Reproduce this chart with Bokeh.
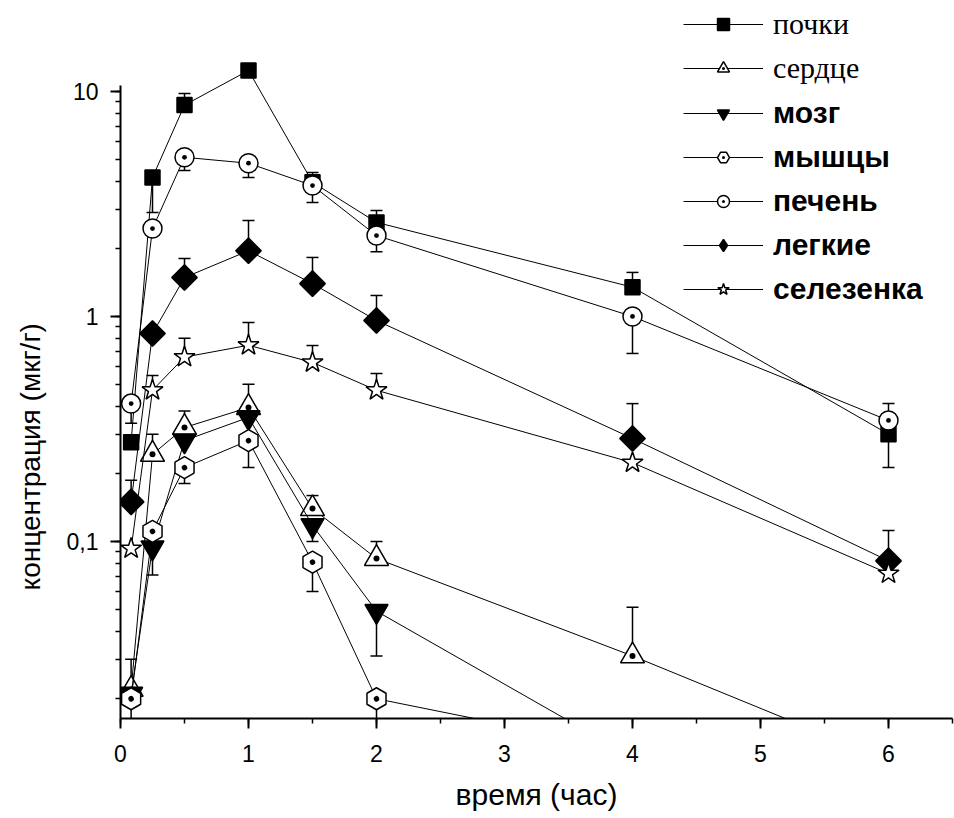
import math
from bokeh.plotting import figure
from bokeh.models import (Range1d, Whisker, TeeHead, ColumnDataSource, Legend, LegendItem,
                          SingleIntervalTicker, CustomJSTickFormatter)
from bokeh.embed import file_html
from bokeh.resources import INLINE

# ---- data (time in hours, concentration in ug/g) ----
t_full = [0.083, 0.25, 0.5, 1, 1.5, 2, 4, 6]
t_short = [0.083, 0.25, 0.5, 1, 1.5, 2, 4]

kidney = [0.276, 4.15, 8.7, 12.4, 3.95, 2.62, 1.35, 0.30]
kidney_lo = [None, 2.9, None, None, None, None, None, 0.213]
kidney_hi = [None, None, 9.8, None, 4.37, 2.96, 1.57, None]

heart = [0.022, 0.244, 0.321, 0.394, 0.14, 0.084, 0.031, 0.0106]
heart_lo = [None, None, None, None, None, None, None, None]
heart_hi = [None, 0.30, 0.38, 0.50, 0.16, 0.10, 0.051, None]

brain = [0.021, 0.094, 0.281, 0.356, 0.118, 0.049, 0.011]
brain_lo = [None, 0.071, None, None, 0.10, 0.031, None]
brain_hi = [None, None, None, None, None, None, None]

muscle = [0.02, 0.111, 0.213, 0.281, 0.081, 0.02, 0.0118]
muscle_lo = [0.015, None, 0.181, 0.213, 0.06, 0.015, None]
muscle_hi = [0.030, None, None, None, None, None, None]

liver = [0.41, 2.46, 5.1, 4.8, 3.82, 2.29, 1.0, 0.345]
liver_lo = [0.335, None, 4.45, 4.15, 3.21, 1.94, 0.685, None]
liver_hi = [None, None, None, None, None, None, None, 0.41]

lung = [0.15, 0.84, 1.49, 1.96, 1.40, 0.96, 0.287, 0.082]
lung_lo = [None, None, None, None, None, None, None, None]
lung_hi = [0.187, None, 1.81, 2.67, 1.83, 1.24, 0.41, 0.112]

spleen = [0.093, 0.47, 0.66, 0.745, 0.625, 0.47, 0.224, 0.072]
spleen_lo = [None, None, None, None, None, None, None, None]
spleen_hi = [None, 0.547, 0.80, 0.94, 0.743, 0.558, None, None]

names = ["почки", "сердце", "мозг", "мышцы", "печень", "легкие", "селезенка"]
x_label = "время (час)"
y_label = "концентрация (мкг/г)"

series = [
    (t_full, kidney, kidney_lo, kidney_hi, dict(marker="square", size=15, fill_color="black", angle=0, leg="square", lsize=15)),
    (t_full, heart, heart_lo, heart_hi, dict(marker="triangle_dot", size=24, fill_color="white", angle=0, leg="triangle_dot", lsize=24)),
    (t_short, brain, brain_lo, brain_hi, dict(marker="inverted_triangle", size=23, fill_color="black", angle=0, leg="inverted_triangle", lsize=23)),
    (t_short, muscle, muscle_lo, muscle_hi, dict(marker="hex_dot", size=22, fill_color="white", angle=math.pi / 6, leg="hex_dot", lsize=22)),
    (t_full, liver, liver_lo, liver_hi, dict(marker="circle_dot", size=19, fill_color="white", angle=0, leg="circle_dot", lsize=19)),
    (t_full, lung, lung_lo, lung_hi, dict(marker="square", size=18, fill_color="black", angle=math.pi / 4, leg="diamond", lsize=24)),
    (t_full, spleen, spleen_lo, spleen_hi, dict(marker="star", size=22, fill_color="white", angle=0, leg="star", lsize=22)),
]

YMIN, YMAX = 0.01634, 25.38

p = figure(width=954, height=818, x_range=Range1d(0, 6.5), y_range=Range1d(YMIN, YMAX),
           y_axis_type="log", output_backend="svg", toolbar_location=None,
           min_border_left=120, min_border_right=2, min_border_top=0, min_border_bottom=100)
p.outline_line_color = None
p.grid.visible = False
p.background_fill_color = "white"
p.border_fill_color = "white"

items = []
for (xs, ys, lo, hi, st) in series:
    lr = p.line(xs, ys, line_color="black", line_width=1)
    sr = p.scatter(xs, ys, marker=st["marker"], size=st["size"], angle=st["angle"],
                   fill_color=st["fill_color"], line_color="black", line_width=1.5)
    ux = [x for x, h in zip(xs, hi) if h is not None]
    uy = [y for y, h in zip(ys, hi) if h is not None]
    uh = [h for h in hi if h is not None]
    if ux:
        src = ColumnDataSource(dict(x=ux, lower=uy, upper=uh))
        p.add_layout(Whisker(source=src, base="x", lower="lower", upper="upper", dimension="height",
                             line_color="black", line_width=1.5,
                             upper_head=TeeHead(size=12, line_width=1.5, line_color="black"),
                             lower_head=None))
    dx = [x for x, l in zip(xs, lo) if l is not None]
    dy = [y for y, l in zip(ys, lo) if l is not None]
    dl = [l for l in lo if l is not None]
    if dx:
        src = ColumnDataSource(dict(x=dx, lower=dl, upper=dy))
        p.add_layout(Whisker(source=src, base="x", lower="lower", upper="upper", dimension="height",
                             line_color="black", line_width=1.5,
                             lower_head=TeeHead(size=12, line_width=1.5, line_color="black"),
                             upper_head=None))
    if st["leg"] != st["marker"]:
        # hidden proxy glyph whose only job is the legend symbol
        lg = p.scatter(xs, ys, marker=st["leg"], size=st["lsize"], visible=False,
                       fill_color=st["fill_color"], line_color="black", line_width=1.5)
        items.append((lr, lg))
    else:
        items.append((lr, sr))

# axes
p.xaxis.ticker = SingleIntervalTicker(interval=1, num_minor_ticks=2)
p.yaxis.bounds = (YMIN, 10.6)
p.yaxis.formatter = CustomJSTickFormatter(
    code="const v = Math.round(tick*1000)/1000; return String(v).replace('.', ',');")
p.xaxis.axis_label = x_label
# trailing no-break spaces push the visible title lower along the axis, as in the original
p.yaxis.axis_label = y_label + "\u00a0" * 25
for ax in (p.xaxis[0], p.yaxis[0]):
    ax.axis_line_width = 2
    ax.axis_line_color = "black"
    ax.major_tick_line_width = 2
    ax.major_tick_line_color = "black"
    ax.minor_tick_line_width = 1.5
    ax.minor_tick_line_color = "black"
    ax.major_tick_out = 10
    ax.major_tick_in = 0
    ax.minor_tick_out = 5
    ax.minor_tick_in = 0
    ax.major_label_text_color = "black"
    ax.axis_label_text_color = "black"
    ax.axis_label_text_font = "Liberation Sans"
    ax.axis_label_text_font_style = "normal"

p.xaxis.major_label_text_font = "Liberation Sans"
p.xaxis.major_label_text_font_size = "23px"
p.xaxis.major_label_standoff = 16
p.xaxis.axis_label_text_font_size = "30px"
p.xaxis.axis_label_standoff = 13

p.yaxis.major_label_text_font = "Liberation Sans"
p.yaxis.major_label_text_font_size = "23px"
p.yaxis.major_label_standoff = 12
p.yaxis.axis_label_text_font_size = "28px"
p.yaxis.axis_label_standoff = 18

# legends (two fonts, as in the original)
def make_legend(idx, font, style, loc):
    leg = Legend(items=[LegendItem(label=names[i], renderers=list(items[i])) for i in idx],
                 location=loc, label_text_font=font, label_text_font_style=style,
                 label_text_font_size="30px", label_text_color="black",
                 glyph_width=80, glyph_height=30, label_height=30, spacing=10,
                 label_standoff=10, padding=0, margin=0, click_policy="none",
                 inactive_fill_alpha=0,
                 border_line_color=None, background_fill_alpha=0)
    p.add_layout(leg)

make_legend([0, 1], "Liberation Serif", "normal", (563, 633))
make_legend([2, 3, 4, 5, 6], "Liberation Sans", "bold", (563, 412))

open("out.html", "w").write(file_html(p, INLINE))
